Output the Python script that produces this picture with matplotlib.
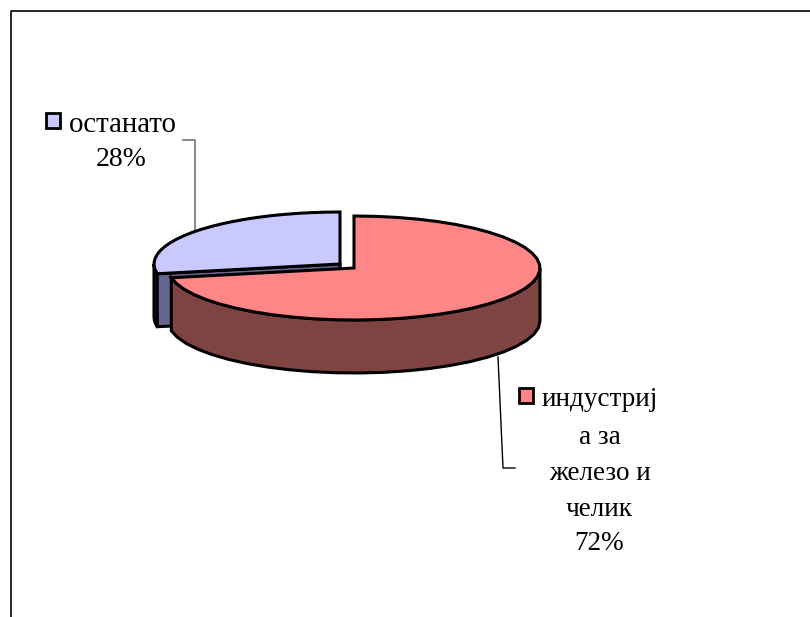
# Pie chart with a pulled out slice, drawn as flat 3D

import numpy as np
import matplotlib.pyplot as plt
from matplotlib.patches import Polygon, Rectangle

# Data
labels = ["индустрија за железо и челик", "останато"]
values = [72, 28]
big_lines = ["индустриј", "а за", "железо и", "челик", "72%"]
small_lines = ["останато", "28%"]

# Colours
big_top = "#ff8686"
big_side = "#7f4342"
small_top = "#c9c9ff"
small_side = "#656592"

# Layout, in pixels
rx = 186
ry = 52
depth = 53
big_center = (354, 268)
small_center = (340, 264)

plt.rcParams['font.family'] = ['Liberation Serif', 'DejaVu Serif']

fig = plt.figure(figsize=(8.10, 6.17), dpi=100)
ax = fig.add_axes([0, 0, 1, 1])
ax.set_xlim(0, 810)
ax.set_ylim(617, 0)
ax.axis('off')


def arc(center, start, end, n=24):
    t = np.radians(np.linspace(start, end, n))
    return np.column_stack([center[0] + rx * np.cos(t), center[1] - ry * np.sin(t)])


def add_poly(points, color, z):
    ax.add_patch(Polygon(points, closed=True, facecolor=color, edgecolor='black',
                         linewidth=2.2, joinstyle='miter', zorder=z))


# Slices start at 12 o'clock and go clockwise
split = 90 - 360 * values[0] / sum(values) + 360

# Small slice
c = np.array(small_center)
edge = arc(small_center, 180, split, 4)
corner = edge[-1]
# side along the rim and the cut face
add_poly(np.vstack([edge, edge[::-1] + [0, depth]]), small_side, 2)
add_poly(np.vstack([corner, c, c + [0, depth], corner + [0, depth]]), small_side, 2)
add_poly(np.vstack([c, arc(small_center, 90, split)]), small_top, 3)

# Big slice
rim = arc(big_center, 0, split - 360)
add_poly(np.vstack([rim, rim[::-1] + [0, depth]]), big_side, 4)
add_poly(np.vstack([big_center, arc(big_center, 90, split - 360, 40)]), big_top, 5)

# Leader lines
ax.plot([183, 195, 195], [140, 140, 232], color='#808080', lw=1.3, zorder=1)
ax.plot([498, 503, 515], [357, 468, 468], color='black', lw=1, zorder=1)

# Frame, open on the right and at the bottom
ax.plot([810, 11, 11], [11, 11, 617], color='black', lw=1.2, zorder=1)

# Legend keys
ax.add_patch(Rectangle((46, 113), 14, 15, facecolor=small_top, edgecolor='black', lw=2))
ax.add_patch(Rectangle((519, 388), 14, 15, facecolor=big_top, edgecolor='black', lw=2))

# Labels
ax.text(123, 125, small_lines[0], fontsize=20.8, ha='center', va='center', color='black')
ax.text(121, 160, small_lines[1], fontsize=20, ha='center', va='center', color='black')
big_y = [400, 437, 474, 509, 544]
for line, y in zip(big_lines, big_y):
    ax.text(599.5, y, line, fontsize=19.5, ha='center', va='center', color='black')

fig.savefig("out.png", dpi=100, facecolor='white')
